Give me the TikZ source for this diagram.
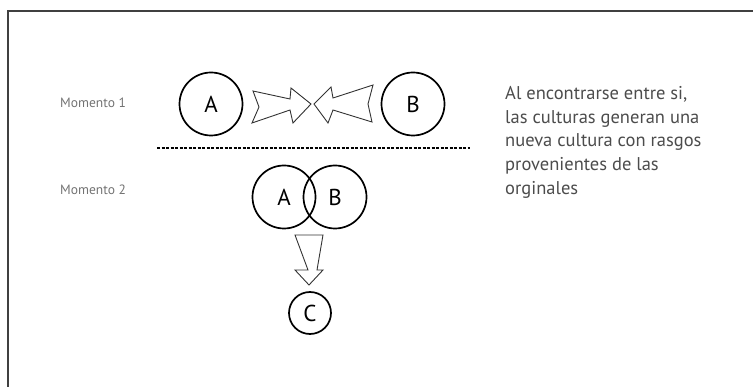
\documentclass[tikz,border=0pt]{standalone}
\usepackage{fontspec}
\setmainfont{PT Sans}
\begin{document}
\begin{tikzpicture}[x=1pt,y=-1pt,
  circ/.style={draw=black,line width=1.7pt,circle,inner sep=0pt,font=\fontsize{23}{23}\selectfont},
  lbl/.style={text=black!55,font=\fontsize{13.5}{14}\selectfont,anchor=west,inner sep=0pt},
  blockarrow/.style={draw=black!80,line width=0.9pt,line join=miter},
  note/.style={text=black!70,font=\fontsize{18.5}{23.8}\selectfont,anchor=north west,align=left,inner sep=0pt}]
\useasboundingbox (0,0) rectangle (753,387);
% frame
\draw[black!75,line width=2.2pt] (8,387) -- (8,11) -- (753,11);
% moment 1
\node[lbl] (m1) at (60,103) {Momento 1};
\node[circ,minimum size=63pt] (a1) at (211,104) {A};
\node[circ,minimum size=63pt] (b1) at (413,104) {B};
\draw[blockarrow] (253,91) -- (290,99) -- (291,88) -- (311,104) -- (293,123) -- (290,110) -- (252,123) -- (259,107) -- cycle;
\draw[blockarrow] (314,104) -- (331,87) -- (333,98) -- (373,85) -- (368,104) -- (372,122) -- (333,110) -- (328,123) -- cycle;
% separator
\coordinate (d1) at (157,148);
\coordinate (d2) at (470,148);
\draw[black,line width=1.5pt,dash pattern=on 3pt off 1.5pt] (d1) -- (d2);
% moment 2
\node[lbl] (m2) at (60,190) {Momento 2};
\node[circ,minimum size=63pt] (a2) at (284,197) {A};
\node[circ,minimum size=63pt] (b2) at (335,197) {B};
\draw[blockarrow] (295,235) -- (323,235) -- (317,270) -- (323,270) -- (309,285) -- (295,270) -- (308,270) -- cycle;
\node[circ,minimum size=42pt] (c) at (310,313) {C};
% note
\node[note] (t) at (505,86) {Al encontrarse entre si,\\las culturas generan una\\nueva cultura con rasgos\\provenientes de las\\orginales};
\end{tikzpicture}
\end{document}
